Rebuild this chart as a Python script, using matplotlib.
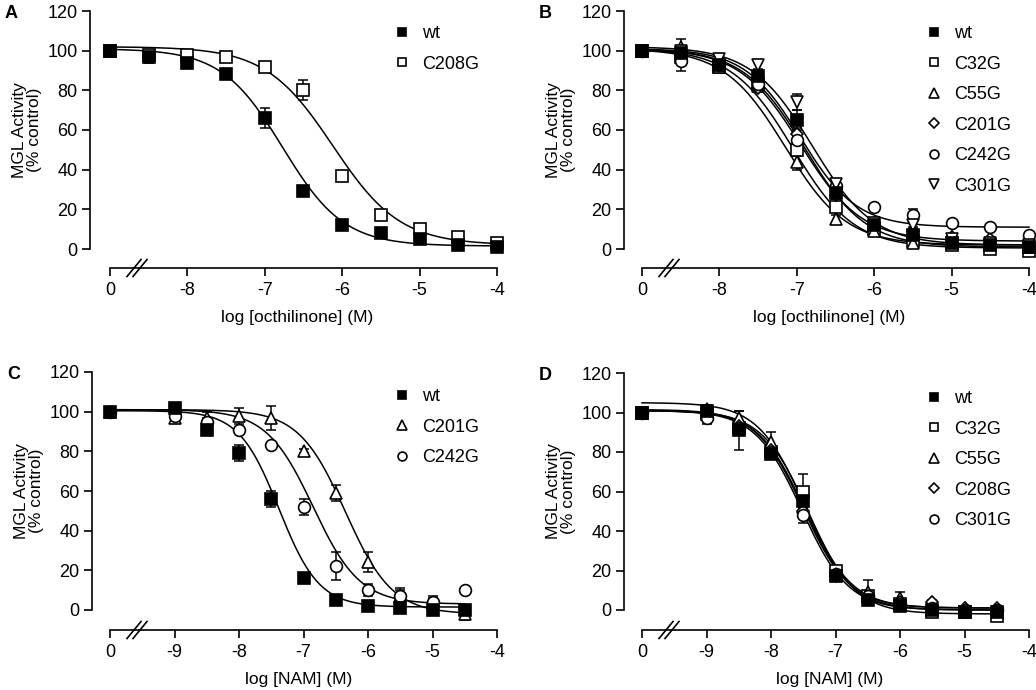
"""
Concentration-response curves of MGL activity, wt vs cysteine mutants.
"""

import numpy as np
import matplotlib
matplotlib.use("Agg")
import matplotlib.pyplot as plt

plt.rcParams['font.family'] = ['Liberation Sans', 'DejaVu Sans']

# log concentrations; the first entry is the vehicle control (tick "0")
x_oct = [0, -8.5, -8, -7.5, -7, -6.5, -6, -5.5, -5, -4.5, -4]
x_nam = [0, -9, -8.5, -8, -7.5, -7, -6.5, -6, -5.5, -5, -4.5]

ticks_oct = [-8, -7, -6, -5, -4]
ticks_nam = [-9, -8, -7, -6, -5, -4]
yticks = [0, 20, 40, 60, 80, 100, 120]

# panel A - octhilinone, wt vs C208G
a_names = ["wt", "C208G"]
a_vals = [[100, 97, 94, 88, 66, 29, 12, 8, 5, 2, 1],
          [100, 98, 98, 97, 92, 80, 37, 17, 10, 6, 3]]
a_errs = [[1, 3, 2, 2, 5, 2, 1, 1, 1, 1, 1],
          [1, 1, 1, 1, 2, 5, 2, 1, 1, 1, 1]]
# fit params: top, bottom, logIC50, hill
a_fits = [[101, 1.5, -6.77, 1.1],
          [102, 2, -6.12, 1.0]]

# panel B - octhilinone, six constructs
b_names = ["wt", "C32G", "C55G", "C201G", "C242G", "C301G"]
b_vals = [[100, 99, 93, 87, 65, 28, 12, 7, 3, 2, 1],
          [100, 97, 92, 83, 50, 21, 10, 4, 2, 0, -1],
          [100, 102, 92, 82, 44, 15, 9, 3, 6, 4, 1],
          [100, 98, 93, 81, 58, 27, 13, 9, 6, 5, 3],
          [100, 95, 93, 83, 55, 32, 21, 17, 13, 11, 7],
          [100, 100, 96, 93, 74, 33, 13, 12, 5, 3, 2]]
b_errs = [[1, 3, 3, 2, 5, 2, 1, 2, 1, 1, 1],
          [1, 2, 2, 2, 3, 2, 1, 1, 1, 1, 1],
          [1, 4, 2, 2, 4, 2, 2, 2, 1, 1, 1],
          [1, 2, 2, 2, 3, 2, 1, 2, 1, 1, 1],
          [1, 5, 2, 2, 3, 2, 1, 3, 1, 1, 1],
          [1, 2, 2, 2, 4, 2, 1, 2, 1, 1, 1]]
b_fits = [[101, 1, -6.9, 1.1],
          [101, 0.5, -7.05, 1.1],
          [101, 2, -7.15, 1.1],
          [101, 4, -6.95, 1.1],
          [101, 11, -6.95, 1.2],
          [102, 2, -6.8, 1.1]]

# panel C - NAM, wt vs C201G / C242G
c_names = ["wt", "C201G", "C242G"]
c_vals = [[100, 102, 91, 79, 56, 16, 5, 2, 1, 0, 0],
          [100, 97, 97, 98, 97, 80, 59, 24, 7, 3, -2],
          [100, 98, 95, 91, 83, 52, 22, 10, 7, 4, 10]]
c_errs = [[1, 2, 2, 4, 4, 1, 1, 1, 1, 1, 2],
          [1, 2, 3, 4, 6, 1, 4, 5, 4, 3, 3],
          [1, 2, 2, 1, 1, 4, 7, 3, 3, 3, 1]]
c_fits = [[100.5, 1.5, -7.38, 1.4],
          [101, -2, -6.35, 1.2],
          [101, 3, -6.85, 1.2]]

# panel D - NAM, five constructs
d_names = ["wt", "C32G", "C55G", "C208G", "C301G"]
d_vals = [[100, 101, 91, 79, 55, 17, 5, 2, 0, -1, -1],
          [100, 99, 92, 80, 60, 20, 7, 3, -1, -1, -3],
          [100, 102, 97, 85, 52, 18, 9, 6, 2, 1, 0],
          [100, 100, 93, 81, 50, 17, 7, 4, 4, 1, 1],
          [100, 97, 92, 80, 48, 18, 7, 3, 1, 0, 0]]
d_errs = [[1, 2, 10, 2, 3, 2, 1, 1, 1, 1, 1],
          [1, 2, 2, 2, 9, 2, 1, 1, 1, 1, 1],
          [1, 2, 4, 5, 3, 2, 6, 3, 1, 1, 1],
          [1, 2, 2, 2, 3, 2, 1, 1, 1, 1, 1],
          [1, 3, 2, 2, 4, 2, 1, 1, 1, 1, 1]]
d_fits = [[101, 0, -7.47, 1.2],
          [101, -2, -7.42, 1.2],
          [105, 1, -7.48, 1.2],
          [101.5, 1, -7.5, 1.2],
          [101, 0, -7.52, 1.2]]

# marker per series, panel by panel (filled only for wt)
a_marks = ['s', 's']
b_marks = ['s', 's', '^', 'D', 'o', 'v']
c_marks = ['s', '^', 'o']
d_marks = ['s', 's', '^', 'D', 'o']
sizes = {'s': 8.5, '^': 9, 'v': 9, 'D': 6.5, 'o': 8.5}

W, H = 1036, 690
fig = plt.figure(figsize=(W / 100, H / 100), dpi=100)


def logistic(x, top, bottom, logic50, hill):
    return bottom + (top - bottom) / (1 + 10 ** ((x - logic50) * hill))


def draw_panel(rect, ctrl, ticks, xs, names, marks, vals, errs, fits,
               xlabel, letter, leg_xy, curve_end):
    """rect = left, right, top, y0 pixel, xaxis pixel, ctrl tick px, -4 tick px."""
    left, right, top, y0px, xaxpx, ctrl_px, m4_px = rect
    ax = fig.add_axes([left / W, 1 - xaxpx / H, (right - left) / W,
                       (xaxpx - top) / H])
    xscale = (m4_px - ctrl_px) / (-4 - ctrl)
    yscale = (y0px - top) / 120.0
    ax.set_xlim(ctrl - (ctrl_px - left) / xscale, -4 + (right - m4_px) / xscale)
    ybot = -(xaxpx - y0px) / yscale
    ax.set_ylim(ybot, 120)

    xpos = [ctrl if v == 0 else v for v in xs]
    xfit = np.linspace(ctrl, curve_end, 300)
    handles = []
    # draw mutants first so wt sits on top
    order = list(range(1, len(names))) + [0]
    for i in order:
        ax.plot(xfit, logistic(xfit, *fits[i]), color='black', lw=1.1,
                zorder=2, clip_on=False)
        ax.errorbar(xpos, vals[i], yerr=errs[i], fmt='none', ecolor='black',
                    elinewidth=1.1, capsize=3.5, capthick=1.1, zorder=3,
                    clip_on=False)
    for i in order:
        mk = marks[i]
        fc = 'black' if names[i] == "wt" else 'white'
        ax.plot(xpos, vals[i], mk, ms=sizes[mk], mfc=fc, mec='black',
                mew=1.2, zorder=4, clip_on=False)
    for i in range(len(names)):
        mk = marks[i]
        fc = 'black' if names[i] == "wt" else 'white'
        h, = ax.plot([], [], mk, ms=sizes[mk] * 0.75, mfc=fc, mec='black',
                     mew=1.2, label=names[i])
        handles.append(h)

    for s in ['top', 'right']:
        ax.spines[s].set_visible(False)
    ax.spines['left'].set_bounds(0, 120)
    ax.spines['bottom'].set_bounds(ctrl, -4)
    for s in ['left', 'bottom']:
        ax.spines[s].set_linewidth(1.2)
    ax.set_yticks(yticks)
    ax.set_xticks([ctrl] + ticks)
    ax.set_xticklabels(["0"] + ["%d" % t for t in ticks])
    ax.tick_params(direction='out', length=6, width=1.2, labelsize=13,
                   pad=3)
    ax.tick_params(axis='x', pad=4)
    ax.set_ylabel("MGL Activity\n(% control)", fontsize=12.5,
                  linespacing=1.0)
    # right edge of the rotated label sits ~48 px left of the y spine
    ax.yaxis.set_label_coords(-48.0 / (right - left),
                              (60 - ybot) / (120 - ybot))
    ax.set_xlabel(xlabel, fontsize=12.5, labelpad=8)

    # axis break "//"
    bx = ctrl + 27 / xscale
    dx = 7 / xscale
    dy = 8.5 / (xaxpx - top)
    for off in [-3 / xscale, 3 / xscale]:
        ax.plot([bx + off - dx, bx + off + dx], [-dy, dy], color='black',
                lw=1.2, transform=ax.get_xaxis_transform(), clip_on=False)

    ax.legend(handles=handles, loc='upper left', frameon=False,
              bbox_to_anchor=(leg_xy[0] / W, 1 - leg_xy[1] / H),
              bbox_transform=fig.transFigure, borderpad=0, borderaxespad=0,
              handlelength=1.0, handletextpad=0.6, labelspacing=0.75,
              fontsize=13)

    fig.text((left - 85) / W, 1 - (top + 2) / H, letter, fontsize=13,
             fontweight='bold', va='center', ha='left')
    return ax


draw_panel((90, 505, 11, 249, 268, 110, 497), -9, ticks_oct, x_oct,
           a_names, a_marks, a_vals, a_errs, a_fits,
           "log [octhilinone] (M)", "A", (393, 25), -4)
draw_panel((624, 1035, 11, 249, 268, 642, 1029), -9, ticks_oct, x_oct,
           b_names, b_marks, b_vals, b_errs, b_fits,
           "log [octhilinone] (M)", "B", (925, 25), -4)
draw_panel((92, 505, 372, 610, 630, 110, 497), -10, ticks_nam, x_nam,
           c_names, c_marks, c_vals, c_errs, c_fits,
           "log [NAM] (M)", "C", (393, 388), -4.5)
draw_panel((624, 1035, 373, 610, 630, 642, 1029), -10, ticks_nam, x_nam,
           d_names, d_marks, d_vals, d_errs, d_fits,
           "log [NAM] (M)", "D", (925, 390), -4.5)

fig.savefig("out.png", dpi=100)
